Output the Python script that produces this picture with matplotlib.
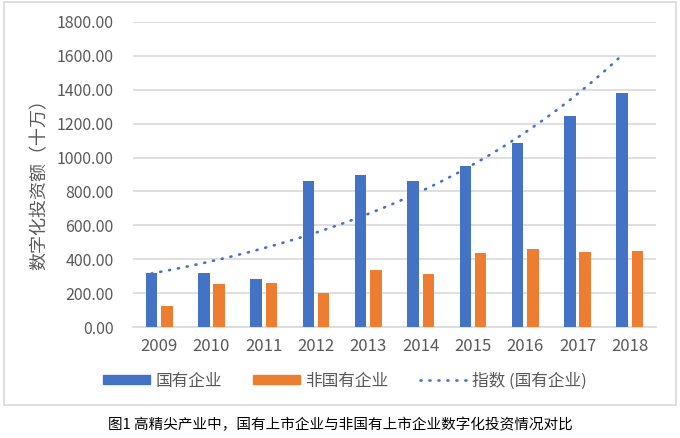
import numpy as np
import matplotlib.pyplot as plt
from matplotlib.patches import Rectangle
from matplotlib.lines import Line2D
from matplotlib.patches import Patch

plt.rcParams['font.family'] = ['Noto Sans CJK SC', 'DejaVu Sans']

years = ['2009', '2010', '2011', '2012', '2013', '2014', '2015', '2016', '2017', '2018']
soe = [317, 317, 282, 859, 898, 859, 951, 1086, 1247, 1379]
non_soe = [126, 254, 260, 201, 339, 313, 435, 459, 445, 449]
yticks = [0, 200, 400, 600, 800, 1000, 1200, 1400, 1600, 1800]

blue = '#4472C4'
orange = '#ED7D31'
gray = '#595959'
dots = (0, (0.4, 3.0))

fig = plt.figure(figsize=(6.8, 4.38), dpi=100)
ax = fig.add_axes([133 / 680, 1 - 327 / 438, 523 / 680, 305 / 438])

x = np.arange(len(years))
w = 0.22
ax.bar(x - 0.147, soe, w, color=blue, zorder=3)
ax.bar(x + 0.147, non_soe, w, color=orange, zorder=3)

# exponential trendline fitted to the SOE series
k, b = np.polyfit(x, np.log(soe), 1)
xs = np.linspace(x[0] - 0.147, x[-1] - 0.147, 200)
ax.plot(xs, np.exp(b + k * (xs + 0.147)), color=blue, lw=1.9,
        linestyle=dots, dash_capstyle='round', zorder=4)

ax.set_xlim(-0.5, len(years) - 0.5)
ax.set_ylim(0, 1800)
ax.set_yticks(yticks)
ax.set_yticklabels(['%.2f' % v for v in yticks])
ax.set_xticks(x)
ax.set_xticklabels(years)
ax.tick_params(length=0, colors=gray)
ax.tick_params(axis='y', pad=14, labelsize=11.5)
ax.tick_params(axis='x', pad=8, labelsize=12)
ax.grid(axis='y', color='#d9d9d9', lw=1.2, zorder=0)
for s in ['top', 'right', 'left']:
    ax.spines[s].set_visible(False)
ax.spines['bottom'].set_color('#d9d9d9')
ax.spines['bottom'].set_linewidth(1.2)

fig.text(40 / 680, 1 - 180 / 438, '数字化投资额（十万）', rotation=90,
         ha='center', va='center', color=gray, fontsize=13)

handles = [Patch(color=blue), Patch(color=orange),
           Line2D([], [], color=blue, lw=1.9, linestyle=dots, dash_capstyle='round')]
leg = fig.legend(handles, ['国有企业', '非国有企业', '指数 (国有企业)'], ncol=3,
                 loc='center', bbox_to_anchor=(345 / 680, 1 - 381 / 438),
                 frameon=False, fontsize=12, handlelength=2.8, handleheight=0.45,
                 columnspacing=1.85, handletextpad=0.35, labelcolor=gray)

fig.patches.append(Rectangle((4 / 680, 1 - 405 / 438), 672 / 680, 403 / 438,
                             transform=fig.transFigure, fill=False,
                             edgecolor='#d9d9d9', lw=1.2))

fig.text(340 / 680, 1 - 425 / 438, '图1 高精尖产业中，国有上市企业与非国有上市企业数字化投资情况对比',
         ha='center', va='center', color='black', fontsize=10.5)

fig.savefig('out.png', dpi=100)
